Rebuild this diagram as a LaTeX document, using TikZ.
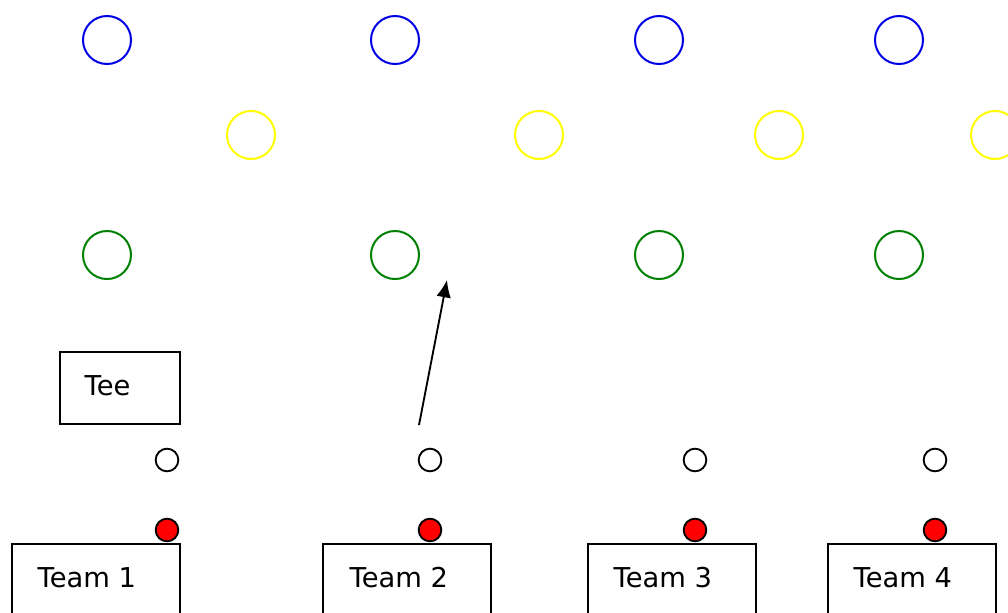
\documentclass[tikz,border=0pt]{standalone}
\usepackage{fontspec}
\setmainfont{DejaVu Sans}
\usetikzlibrary{arrows.meta}
\begin{document}
\begin{tikzpicture}[x=0.75pt,y=-0.75pt,
  ring/.style={circle,draw,line width=1.5pt,minimum size=36pt,inner sep=0pt},
  bluering/.style={ring,draw={rgb,255:red,0;green,0;blue,230}},
  yellowring/.style={ring,draw={rgb,255:red,255;green,255;blue,0}},
  greenring/.style={ring,draw={rgb,255:red,0;green,128;blue,0}},
  ball/.style={circle,draw,line width=1.4pt,minimum size=17pt,inner sep=0pt},
  redball/.style={ball,fill=red},
  teambox/.style={draw,line width=1.4pt,anchor=north west,minimum width=126pt,minimum height=60pt,inner sep=0pt},
  lbl/.style={font=\fontsize{20.5}{24}\selectfont}
]
\useasboundingbox (0,0) rectangle (1008,612);
\clip (0,0) rectangle (1008,612);
% blue
\node[bluering] (b1) at (107,40) {};
\node[bluering] (b2) at (395,40) {};
\node[bluering] (b3) at (659,40) {};
\node[bluering] (b4) at (899,40) {};
% yellow
\node[yellowring] (y1) at (251,135) {};
\node[yellowring] (y2) at (539,135) {};
\node[yellowring] (y3) at (779,135) {};
\node[yellowring] (y4) at (995,135) {};
% green
\node[greenring] (g1) at (107,255) {};
\node[greenring] (g2) at (395,255) {};
\node[greenring] (g3) at (659,255) {};
\node[greenring] (g4) at (899,255) {};
% white balls
\node[ball] (w1) at (167,460) {};
\node[ball] (w2) at (430,460) {};
\node[ball] (w3) at (695,460) {};
\node[ball] (w4) at (935,460) {};
% red balls
\node[redball] (r1) at (167,530) {};
\node[redball] (r2) at (430,530) {};
\node[redball] (r3) at (695,530) {};
\node[redball] (r4) at (935,530) {};
% tee
\node[draw,line width=1.4pt,anchor=north west,minimum width=90pt,minimum height=54pt,inner sep=0pt] (tee) at (59,351) {};
\node[lbl,anchor=west] (teel) at (80,386) {Tee};
% teams
\node[teambox] (t1) at (11,543) {};
\node[teambox] (t2) at (322,543) {};
\node[teambox] (t3) at (587,543) {};
\node[teambox] (t4) at (827,543) {};
\node[lbl,anchor=west] (t1l) at (33,578) {Team 1};
\node[lbl,anchor=west] (t2l) at (345,578) {Team 2};
\node[lbl,anchor=west] (t3l) at (609,578) {Team 3};
\node[lbl,anchor=west] (t4l) at (849,578) {Team 4};
% arrow
\coordinate (as) at (419,425);
\coordinate (ae) at (447,280);
\draw[line width=1.4pt,-{Latex[length=13pt,width=11pt]}] (as) -- (ae);
\end{tikzpicture}
\end{document}
